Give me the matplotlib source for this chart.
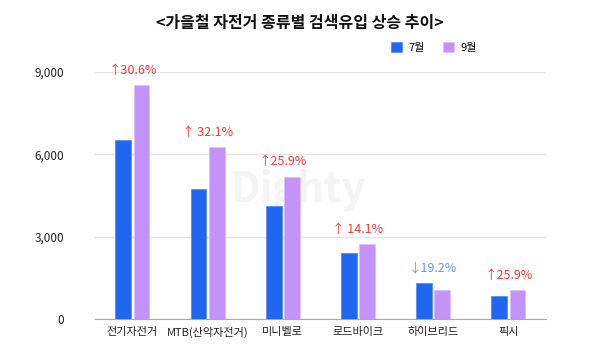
import matplotlib.pyplot as plt
import numpy as np

plt.rcParams['font.family'] = ['Noto Sans CJK KR', 'DejaVu Sans']

categories = ['전기자전거', 'MTB(산악자전거)', '미니벨로', '로드바이크', '하이브리드', '픽시']
july = [6520, 4740, 4120, 2400, 1320, 830]
sept = [8515, 6262, 5187, 2738, 1067, 1045]
changes = ['↑30.6%', '↑ 32.1%', '↑25.9%', '↑ 14.1%', '↓19.2%', '↑25.9%']
yticks = [0, 3000, 6000, 9000]

blue = '#1f66f0'
purple = '#c393fa'

fig = plt.figure(figsize=(6, 3.5), dpi=100)
ax = fig.add_axes([0.158, 0.089, 0.752, 0.705])

x = np.arange(len(categories))
w = 0.21
ax.bar(x - w / 2 - 0.015, july, w, color=blue, edgecolor='#5b8ff5', linewidth=0.6, label='7월', zorder=3)
ax.bar(x + w / 2 + 0.015, sept, w, color=purple, edgecolor='#dcc2fc', linewidth=0.6, label='9월', zorder=3)

for i, txt in enumerate(changes):
    top = max(july[i], sept[i])
    col = '#6b96f5' if txt.startswith('↓') else '#f03a3a'
    ax.text(x[i], top + 300, txt, ha='center', va='bottom', color=col, fontsize=9)

ax.set_xlim(-0.5, len(categories) - 0.5)
ax.set_ylim(0, 9000)
ax.set_yticks(yticks)
ax.set_yticklabels([f'{v:,}' for v in yticks])
ax.set_xticks(x)
ax.set_xticklabels(categories)
ax.tick_params(axis='both', length=0, labelsize=8.5, colors='#222222')
ax.tick_params(axis='x', labelsize=8)
ax.tick_params(axis='y', pad=22)
ax.tick_params(axis='x', pad=6)
ax.grid(axis='y', color='#e4e4e4', linewidth=1, zorder=0)
ax.set_axisbelow(True)
for s in ['top', 'right', 'left']:
    ax.spines[s].set_visible(False)
ax.spines['bottom'].set_color('#aaaaaa')

# faint watermark
ax.text(0.45, 0.52, 'Dighty', transform=ax.transAxes, ha='center', va='center',
        fontsize=30, fontweight='bold', color='#f4f4f4', zorder=1)

fig.text(0.5, 0.935, '<가을철 자전거 종류별 검색유입 상승 추이>', ha='center', va='center',
         fontsize=11.5, fontweight='bold', color='#111111')

ax.legend(loc='center right', bbox_to_anchor=(0.87, 1.10), ncol=2, frameon=False,
          fontsize=8, handlelength=1.0, handleheight=1.0, columnspacing=1.6, handletextpad=0.6)

fig.savefig('out.png', dpi=100)
